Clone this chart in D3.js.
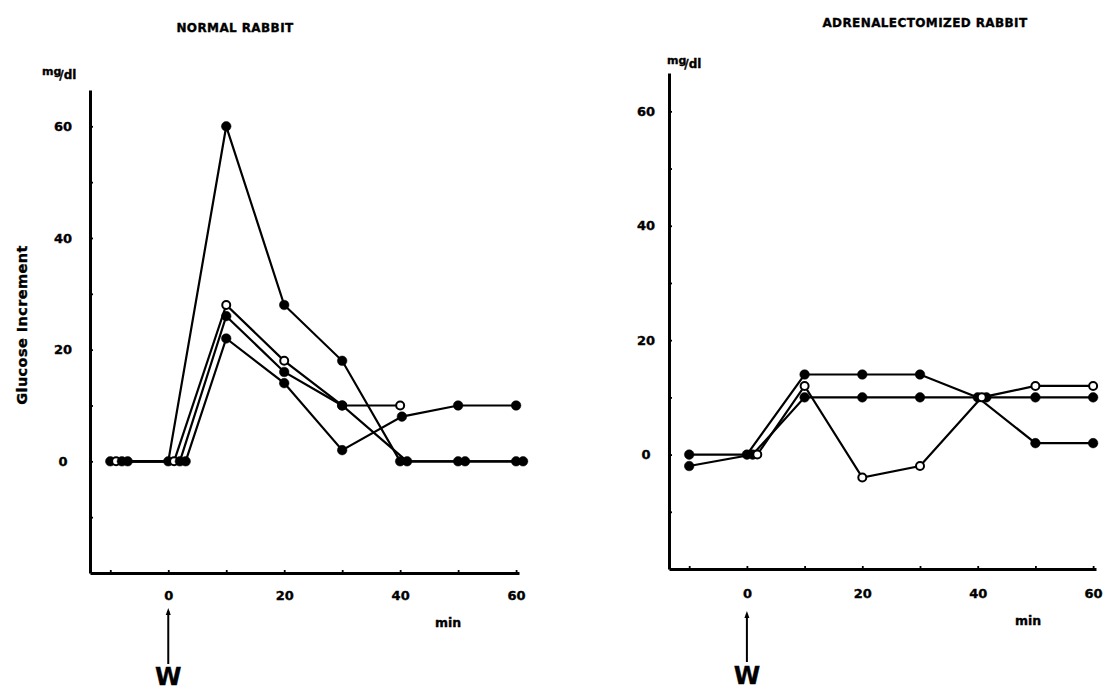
<!DOCTYPE html>
<html>
<head>
<meta charset="utf-8">
<script src="https://cdn.jsdelivr.net/npm/d3@7"></script>
<style>
  body { margin: 0; background: #fff; }
  text { font-family: "DejaVu Sans", sans-serif; font-weight: bold; fill: #000; stroke: #000; stroke-width: 0.35px; }
</style>
</head>
<body>
<div id="chart"></div>
<script>
// times in min (points that sat on top of each other were drawn slightly apart in the original)
const normalTimes = [
  [-10, 0, 10, 20, 30, 40, 50, 60],
  [-9, 1, 10, 20, 30, 40],
  [-8, 2, 10, 20, 30, 41.2, 51.2, 61.2],
  [-7, 3, 10, 20, 30, 40.3, 50, 60]
];
const normalValues = [
  [0, 0, 60, 28, 18, 0, 0, 0],
  [0, 0, 28, 18, 10, 10],
  [0, 0, 26, 16, 10, 0, 0, 0],
  [0, 0, 22, 14, 2, 8, 10, 10]
];
const normalOpen = [false, true, false, false];

const adrenalTimes = [
  [-10, 0, 10, 20, 30, 40, 50, 60],
  [-10, 1, 10, 20, 30, 41.5, 50, 60],
  [1.8, 10, 20, 30, 40.7, 50, 60]
];
const adrenalValues = [
  [0, 0, 14, 14, 14, 10, 2, 2],
  [-2, 0, 10, 10, 10, 10, 10, 10],
  [0, 12, -4, -2, 10, 12, 12]
];
const adrenalOpen = [false, false, true];

const xTicks = [-10, 0, 10, 20, 30, 40, 50, 60];
const xLabels = [0, 20, 40, 60];
const yTicks = [-10, 0, 10, 20, 30, 40, 50, 60];
const yLabels = [0, 20, 40, 60];

const width = 1112, height = 693;

const svg = d3.select("#chart")
  .append("svg")
  .attr("width", width)
  .attr("height", height);

const panels = [
  { title: "NORMAL RABBIT", titleX: 235, titleY: 32,
    times: normalTimes, values: normalValues, open: normalOpen,
    xDomain: [-13.5, 60.5], xRange: [90, 519],
    yDomain: [-20, 66.5], yRange: [573, 90],
    yPad: 17, xPad: 18, unitX: 42, unitY: 79, minX: 448, minY: 627,
    arrowTop: 608, arrowBottom: 664, wY: 685 },
  { title: "ADRENALECTOMIZED RABBIT", titleX: 925, titleY: 27,
    times: adrenalTimes, values: adrenalValues, open: adrenalOpen,
    xDomain: [-13.5, 60.5], xRange: [669, 1096],
    yDomain: [-20, 66.7], yRange: [569, 73],
    yPad: 13, xPad: 20, unitX: 667, unitY: 68, minX: 1028, minY: 625,
    arrowTop: 611, arrowBottom: 662, wY: 684 }
];

panels.forEach(p => {
  const x = d3.scaleLinear().domain(p.xDomain).range(p.xRange);
  const y = d3.scaleLinear().domain(p.yDomain).range(p.yRange);
  const g = svg.append("g");

  // axes, ticks pointing inward
  const yAxis = g.append("g")
    .attr("transform", `translate(${p.xRange[0]},0)`)
    .call(d3.axisLeft(y)
      .tickValues(yTicks)
      .tickSizeInner(-3)
      .tickSizeOuter(0)
      .tickPadding(p.yPad)
      .tickFormat(d => yLabels.includes(d) ? d : ""));

  const xAxis = g.append("g")
    .attr("transform", `translate(0,${p.yRange[0]})`)
    .call(d3.axisBottom(x)
      .tickValues(xTicks)
      .tickSizeInner(-3)
      .tickSizeOuter(0)
      .tickPadding(p.xPad)
      .tickFormat(d => xLabels.includes(d) ? d : ""));

  [yAxis, xAxis].forEach(a => {
    a.select(".domain").attr("stroke", "#000").attr("stroke-width", 3);
    a.selectAll(".tick line").attr("stroke", "#000").attr("stroke-width", 1.8);
    a.selectAll(".tick text")
      .style("font-family", "'DejaVu Sans', sans-serif")
      .style("font-weight", "bold")
      .style("font-size", "13px")
      .attr("fill", "#000");
  });
  yAxis.selectAll(".tick text").attr("text-anchor", "middle").attr("x", -p.yPad - 10);

  // series
  const line = d3.line().x(d => x(d[0])).y(d => y(d[1]));
  p.times.forEach((ts, i) => {
    const pts = ts.map((t, j) => [t, p.values[i][j]]);
    g.append("path")
      .attr("d", line(pts))
      .attr("fill", "none")
      .attr("stroke", "#000")
      .attr("stroke-width", 2.2);
  });
  p.times.forEach((ts, i) => {
    const pts = ts.map((t, j) => [t, p.values[i][j]]);
    g.selectAll(null)
      .data(pts)
      .join("circle")
      .attr("cx", d => x(d[0]))
      .attr("cy", d => y(d[1]))
      .attr("r", p.open[i] ? 4 : 4.8)
      .attr("fill", p.open[i] ? "#fff" : "#000")
      .attr("stroke", "#000")
      .attr("stroke-width", p.open[i] ? 2 : 0.5);
  });

  // labels
  svg.append("text")
    .attr("x", p.titleX).attr("y", p.titleY)
    .attr("text-anchor", "middle")
    .style("font-size", "12px")
    .style("letter-spacing", "0.4px")
    .text(p.title);

  const unit = svg.append("text")
    .attr("x", p.unitX).attr("y", p.unitY)
    .style("font-size", "11px");
  unit.append("tspan").attr("dy", -4).text("mg");
  unit.append("tspan").attr("dy", 4).attr("dx", -2).style("font-size", "12px").text("/dl");

  svg.append("text")
    .attr("x", p.minX).attr("y", p.minY)
    .attr("text-anchor", "middle")
    .style("font-size", "12.5px")
    .text("min");

  // W arrow under time zero
  const ax = x(0);
  svg.append("line")
    .attr("x1", ax).attr("x2", ax)
    .attr("y1", p.arrowTop + 3).attr("y2", p.arrowBottom)
    .attr("stroke", "#000").attr("stroke-width", 2);
  svg.append("path")
    .attr("d", `M${ax - 2.5},${p.arrowTop + 7}L${ax},${p.arrowTop}L${ax + 2.5},${p.arrowTop + 7}Z`)
    .attr("fill", "#000");
  svg.append("text")
    .attr("x", ax).attr("y", p.wY)
    .attr("text-anchor", "middle")
    .style("font-size", "24px")
    .text("W");
});

svg.append("text")
  .attr("transform", "translate(27,325) rotate(-90)")
  .attr("text-anchor", "middle")
  .style("font-size", "14.5px")
  .style("letter-spacing", "0.4px")
  .text("Glucose Increment");
</script>
</body>
</html>
